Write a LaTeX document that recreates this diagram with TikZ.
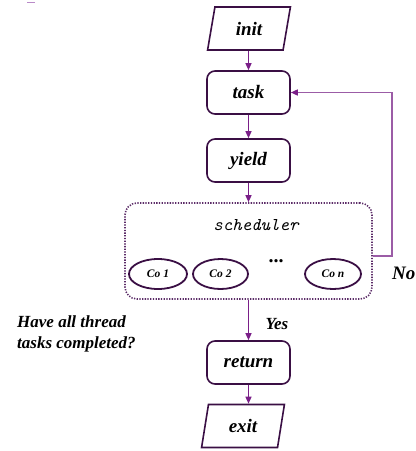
\documentclass[tikz,border=0pt]{standalone}
\usepackage{fontspec}
\setmainfont{Liberation Serif}
\usetikzlibrary{shapes.geometric,arrows.meta}
\definecolor{boxc}{HTML}{3A0F44}
\definecolor{arrc}{HTML}{7A1F88}
\definecolor{loopc}{HTML}{9B5CA6}
\definecolor{dotc}{HTML}{5C2C68}
\definecolor{dashc}{HTML}{B98AC8}
\tikzset{
  lbl/.style={font=\fontsize{19}{22}\selectfont\bfseries\itshape, inner sep=0pt},
  procbox/.style={lbl, draw=boxc, line width=1.6pt, rounded corners=8pt,
    minimum width=83pt, minimum height=43pt},
  iobox/.style={lbl, trapezium, trapezium left angle=78, trapezium right angle=102,
    trapezium stretches=true, draw=boxc, line width=1.6pt,
    minimum width=83pt, minimum height=43pt},
  schedbox/.style={draw=dotc, line width=1.6pt, dash pattern=on 1.3pt off 1.4pt,
    rounded corners=12pt, minimum width=247pt, minimum height=96pt, inner sep=0pt},
  coell/.style={ellipse, draw=boxc, line width=1.8pt, minimum height=30pt,
    inner sep=0pt, font=\fontsize{11.5}{13}\selectfont\bfseries\itshape},
  arr/.style={draw=arrc, line width=1.2pt, -{Triangle[length=7pt,width=6pt]}},
  looparr/.style={draw=loopc, line width=1.5pt, -{Triangle[length=7pt,width=6pt,color=arrc]}},
}
\begin{document}
\begin{tikzpicture}[x=1pt,y=-1pt]
\useasboundingbox (0,0) rectangle (416,451);
\draw[dashc, line width=1pt] (27,2) -- (35,2);
\node[iobox] (init) at (249,28.5) {init};
\node[procbox] (task) at (248.5,92.5) {task};
\node[procbox] (yield) at (248.5,160.5) {yield};
\node[schedbox] (sched) at (248.5,251) {};
\node[font=\fontsize{18}{20}\selectfont\ttfamily\itshape, inner sep=0pt] (schedlbl) at (256,225) {scheduler};
\node[coell, minimum width=58pt] (co1) at (158,274) {Co 1};
\node[coell, minimum width=55pt] (co2) at (220.5,274) {Co 2};
\node[lbl, font=\fontsize{20}{22}\selectfont\bfseries] (dots) at (276,261) {...};
\node[coell, minimum width=56pt] (con) at (333,274) {Co n};
\node[procbox] (ret) at (248.5,362.5) {return};
\node[iobox] (exit) at (243,426) {exit};
\node[lbl, anchor=west] (no) at (392,273) {No};
\node[lbl, font=\fontsize{17}{20}\selectfont\bfseries\itshape] (yes) at (277,324) {Yes};
\node[lbl, font=\fontsize{17}{21}\selectfont\bfseries\itshape, align=left, anchor=west] (q) at (17,334) {Have all thread\\tasks completed?};
\coordinate (loopout) at ([yshift=-5pt]sched.east);
\draw[arr] (init.south -| task.north) -- (task.north);
\draw[arr] (task) -- (yield);
\draw[arr] (yield) -- (sched.north);
\draw[arr] (sched.south) -- (ret.north);
\draw[arr] (ret.south) -- (ret.south |- exit.north);
\draw[looparr] (loopout) -- ++(19,0) |- (task.east);
\end{tikzpicture}
\end{document}
